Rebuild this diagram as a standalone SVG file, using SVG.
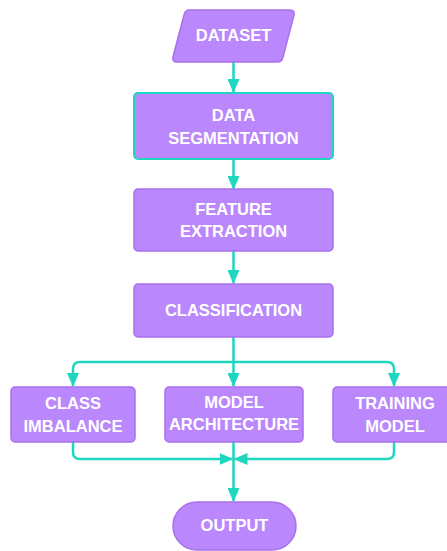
<svg xmlns="http://www.w3.org/2000/svg" width="447" height="551" viewBox="0 0 447 551">
<style>
.node{fill:#bb87fc;stroke:#a772ec;stroke-width:1.5}
.sel{stroke:#1fd6c1;stroke-width:2}
.lbl{fill:#ffffff;font-family:"Liberation Sans",Arial,sans-serif;font-weight:bold;font-size:16.5px;text-anchor:middle}
.edge{fill:none;stroke:#1fd6c1;stroke-width:2.5}
</style>
<defs>
<marker id="ah" viewBox="0 0 14 12" refX="13" refY="6" markerWidth="14" markerHeight="12" markerUnits="userSpaceOnUse" orient="auto">
<path d="M0,0 L14,6 L0,12 Z" fill="#1fd6c1"/>
</marker>
</defs>
<rect width="447" height="551" fill="#ffffff"/>
<g id="connectors">
<path class="edge" d="M233.5,62 V92" marker-end="url(#ah)"/>
<path class="edge" d="M233.5,159 V189" marker-end="url(#ah)"/>
<path class="edge" d="M233.5,251 V283" marker-end="url(#ah)"/>
<path class="edge" d="M233.5,337 V386" marker-end="url(#ah)"/>
<path class="edge" d="M233.5,362 H80 Q73,362 73,369 V386" marker-end="url(#ah)"/>
<path class="edge" d="M233.5,362 H387 Q394,362 394,369 V386" marker-end="url(#ah)"/>
<path class="edge" d="M73,442 V452 Q73,459 80,459 H232.5" marker-end="url(#ah)"/>
<path class="edge" d="M394,442 V452 Q394,459 387,459 H234.5" marker-end="url(#ah)"/>
<path class="edge" d="M233.5,442 V501" marker-end="url(#ah)"/>
</g>
<g id="dataset">
<path class="node" d="M189,10 H290 Q295,10 294,15 L283,57 Q282,62 277,62 H177 Q172,62 173,57 L184,15 Q185,10 189,10 Z"/>
<text class="lbl" x="233.5" y="41">DATASET</text>
</g>
<g id="data-segmentation">
<rect class="node sel" x="134" y="93" width="199" height="66" rx="4"/>
<text class="lbl" x="233.5" y="121">DATA</text>
<text class="lbl" x="233.5" y="144">SEGMENTATION</text>
</g>
<g id="feature-extraction">
<rect class="node" x="134" y="189" width="199" height="62" rx="4"/>
<text class="lbl" x="233.5" y="215">FEATURE</text>
<text class="lbl" x="233.5" y="237">EXTRACTION</text>
</g>
<g id="classification">
<rect class="node" x="134" y="284" width="199" height="53" rx="4"/>
<text class="lbl" x="233.5" y="316">CLASSIFICATION</text>
</g>
<g id="class-imbalance">
<rect class="node" x="11" y="387" width="124" height="55" rx="4"/>
<text class="lbl" x="73" y="409">CLASS</text>
<text class="lbl" x="73" y="432">IMBALANCE</text>
</g>
<g id="model-architecture">
<rect class="node" x="165" y="387" width="138" height="55" rx="4"/>
<text class="lbl" x="234" y="408">MODEL</text>
<text class="lbl" x="234" y="430">ARCHITECTURE</text>
</g>
<g id="training-model">
<rect class="node" x="333" y="387" width="124" height="55" rx="4"/>
<text class="lbl" x="395" y="409">TRAINING</text>
<text class="lbl" x="395" y="432">MODEL</text>
</g>
<g id="output">
<rect class="node" x="173" y="502" width="123" height="48" rx="24"/>
<text class="lbl" x="234.5" y="531">OUTPUT</text>
</g>
</svg>
